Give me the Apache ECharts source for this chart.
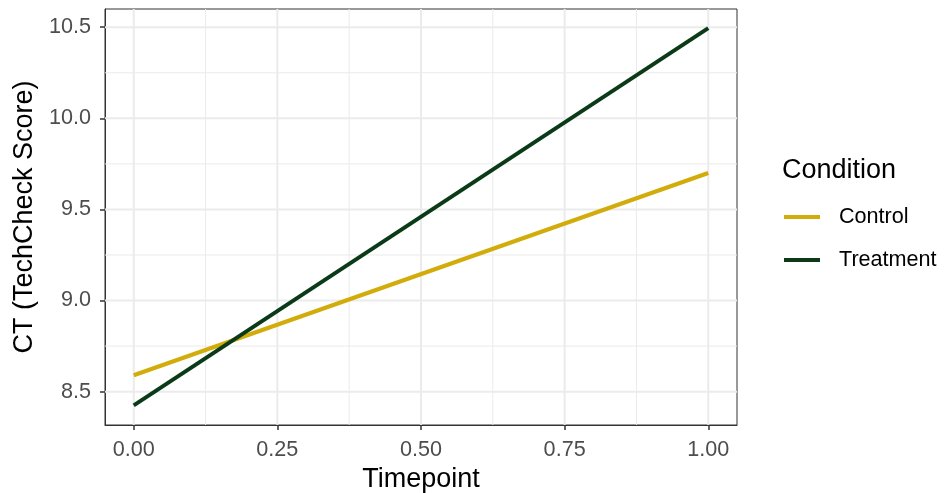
<!DOCTYPE html>
<html><head><meta charset="utf-8">
<script src="https://cdn.jsdelivr.net/npm/echarts@6/dist/echarts.min.js"></script>
<style>html,body{margin:0;padding:0;background:#fff}#c{width:946px;height:493px}</style>
</head><body><div id="c"></div>
<script>
const timepoints = [0, 1];
const controlValues = [8.59, 9.70];
const treatmentValues = [8.425, 10.495];
const seriesNames = ['Control', 'Treatment'];
const xTicks = [0, 0.25, 0.5, 0.75, 1];
const xMinor = [0.125, 0.375, 0.625, 0.875];
const yTicks = [8.5, 9.0, 9.5, 10.0, 10.5];
const yMinor = [8.75, 9.25, 9.75, 10.25];

const X_MIN = -0.05, X_MAX = 1.05, Y_MIN = 8.317, Y_MAX = 10.6;
const FONT = '"Liberation Sans", Arial, sans-serif';
const chart = echarts.init(document.getElementById('c'), null, {renderer: 'canvas'});

function gridSeries() {
  const out = [];
  const mk = (data, w) => ({type: 'line', data, silent: true, symbol: 'none', showSymbol: false,
    lineStyle: {color: '#ebebeb', width: w}, z: 1, legendHoverLink: false, tooltip: {show: false}});
  xMinor.forEach(v => out.push(mk([[v, Y_MIN], [v, Y_MAX]], 1)));
  yMinor.forEach(v => out.push(mk([[X_MIN, v], [X_MAX, v]], 1)));
  xTicks.forEach(v => out.push(mk([[v, Y_MIN], [v, Y_MAX]], 2)));
  yTicks.forEach(v => out.push(mk([[X_MIN, v], [X_MAX, v]], 2)));
  return out;
}

chart.setOption({
  animation: false,
  backgroundColor: '#fff',
  grid: {left: 105, right: 209, top: 9, bottom: 68, containLabel: false, outerBoundsMode: 'none',
    show: true, borderColor: '#333', borderWidth: 1, backgroundColor: '#fff', z: 0},
  xAxis: {
    type: 'value', min: X_MIN, max: X_MAX,
    name: 'Timepoint', nameLocation: 'middle', nameGap: 40,
    nameTextStyle: {fontFamily: FONT, fontSize: 27, color: '#000'},
    axisLine: {show: true, onZero: false, lineStyle: {color: '#333', width: 1}},
    axisTick: {show: true, customValues: xTicks, length: 5, lineStyle: {color: '#333', width: 1.5}},
    axisLabel: {customValues: xTicks, formatter: v => v.toFixed(2), fontFamily: FONT, fontSize: 21.6, color: '#4d4d4d', margin: 14},
    splitLine: {show: false}
  },
  yAxis: {
    type: 'value', min: Y_MIN, max: Y_MAX,
    name: 'CT (TechCheck Score)', nameLocation: 'middle', nameGap: 66, nameRotate: 90,
    nameTextStyle: {fontFamily: FONT, fontSize: 27, color: '#000'},
    axisLine: {show: true, onZero: false, lineStyle: {color: '#333', width: 1}},
    axisTick: {show: true, customValues: yTicks, length: 5, lineStyle: {color: '#333', width: 1.5}},
    axisLabel: {customValues: yTicks, formatter: v => v.toFixed(1), fontFamily: FONT, fontSize: 21.6, color: '#4d4d4d', margin: 14},
    splitLine: {show: false}
  },
  legend: {
    orient: 'vertical', left: 779, top: 201, itemGap: 21,
    itemWidth: 36, itemHeight: 4, icon: 'rect',
    textStyle: {fontFamily: FONT, fontSize: 21.6, lineHeight: 22, color: '#000', padding: [0, 0, 0, 14]},
    data: seriesNames
  },
  graphic: [{type: 'text', left: 782, top: 157, style: {text: 'Condition', font: '27px ' + FONT, fill: '#000'}}],
  series: gridSeries().concat([
    {type: 'line', name: seriesNames[0], data: timepoints.map((t, i) => [t, controlValues[i]]), showSymbol: false, symbol: 'none', lineStyle: {color: '#d1ac0a', width: 4}, itemStyle: {color: '#d1ac0a'}, z: 3},
    {type: 'line', name: seriesNames[1], data: timepoints.map((t, i) => [t, treatmentValues[i]]), showSymbol: false, symbol: 'none', lineStyle: {color: '#0b3a18', width: 4}, itemStyle: {color: '#0b3a18'}, z: 4}
  ])
});
</script></body></html>
